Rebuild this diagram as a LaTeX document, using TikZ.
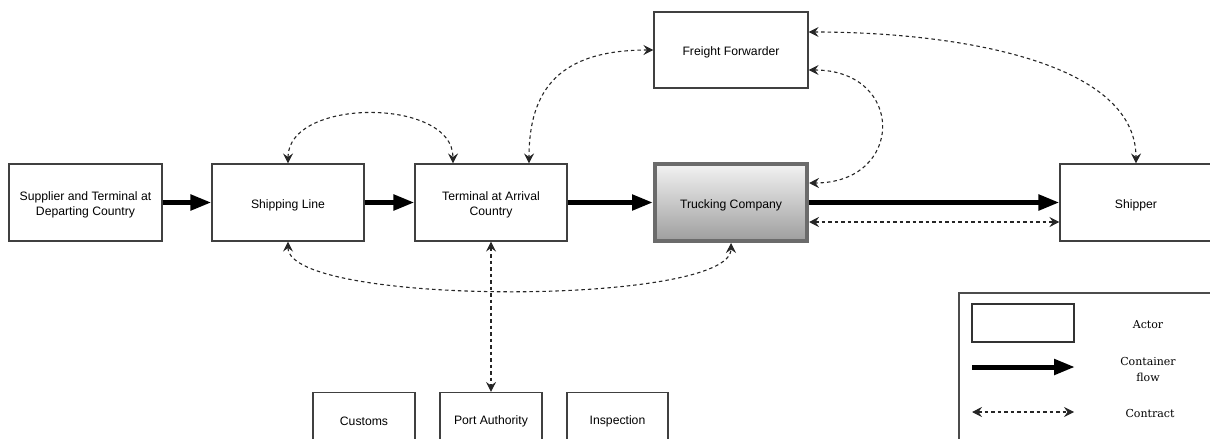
\documentclass[tikz,border=0pt]{standalone}
\usepackage{fontspec}
\setsansfont{Liberation Sans}
\newfontfamily\legendfont{DejaVu Serif}
\usetikzlibrary{arrows.meta}
\begin{document}
\begin{tikzpicture}[x=1pt,y=-1pt,
  actor/.style={draw=black!75, line width=1.1pt, fill=white, inner sep=0pt},
  hub/.style={actor, draw=black!58, line width=4pt, top color=black!5, bottom color=black!38},
  boxtext/.style={inner sep=0pt, align=center, yshift=-2.5pt,
    font=\sffamily\fontsize{12.2}{15}\selectfont},
  legtext/.style={font=\legendfont\fontsize{11}{16}\selectfont, align=center, inner sep=0pt},
  flow/.style={line width=5pt, -{Triangle[length=21pt,width=15pt]}},
  contract/.style={draw=black!85, line width=1.1pt, dash pattern=on 3.5pt off 3pt,
    {Stealth[length=10pt,width=10pt,inset=3.5pt]}-{Stealth[length=10pt,width=10pt,inset=3.5pt]}}]
\useasboundingbox (0,0) rectangle (1210,439);

% main actors
\node[actor, minimum width=153pt, minimum height=77pt] (sup) at (85.5,202.5) {};
\node[actor, minimum width=152pt, minimum height=77pt] (ship) at (288,202.5) {};
\node[actor, minimum width=152pt, minimum height=77pt] (term) at (491,202.5) {};
\node[hub, minimum width=152pt, minimum height=77pt] (truck) at (731,202.5) {};
\node[actor, minimum width=154pt, minimum height=76pt] (ff) at (731,50) {};
\node[actor, minimum width=152pt, minimum height=77pt] (shipper) at (1136,202.5) {};
\node[boxtext] (supt) at (sup.center) {Supplier and Terminal at\\Departing Country};
\node[boxtext] (shipt) at (ship.center) {Shipping Line};
\node[boxtext] (termt) at (term.center) {Terminal at Arrival\\Country};
\node[boxtext] (truckt) at (truck.center) {Trucking Company};
\node[boxtext] (fft) at (ff.center) {Freight Forwarder};
\node[boxtext] (shippert) at (shipper.center) {Shipper};

% authorities
\node[actor, minimum width=102pt, minimum height=56pt] (cust) at (364,420.5) {};
\node[actor, minimum width=102pt, minimum height=56pt] (port) at (491,420.5) {};
\node[actor, minimum width=101pt, minimum height=56pt] (insp) at (617.5,420.5) {};
\node[boxtext, yshift=2pt] (custt) at (cust.center) {Customs};
\node[boxtext, yshift=2pt] (portt) at (port.center) {Port Authority};
\node[boxtext, yshift=2pt] (inspt) at (insp.center) {Inspection};

% container flow
\draw[flow] (sup.east) -- (ship.west);
\draw[flow] (ship.east) -- (term.west);
\draw[flow] (term.east) -- (truck.west);
\draw[flow] (truck.east) -- (shipper.west);

% contracts
\draw[contract] (ship.north) .. controls +(0,-66) and +(0,-66) .. ([xshift=-38pt]term.north);
\draw[contract] (ff.west) .. controls +(-94,0) and +(0,-74) .. ([xshift=38pt]term.north);
\draw[contract] ([yshift=18pt]ff.east) .. controls +(142,0) and +(0,-104) .. (shipper.north);
\draw[contract] ([yshift=-20pt]ff.east) .. controls +(97,0) and +(96,0) .. ([yshift=19.5pt]truck.east);
\draw[contract] ([yshift=-19.5pt]truck.east) -- ([yshift=-19.5pt]shipper.west);
\draw[contract] (ship.south) .. controls +(0,65) and +(0,63) .. (truck.south);
\draw[contract] (term.south) -- (port.north);

% legend
\node[draw=black!70, line width=1.1pt, minimum width=262pt, minimum height=160pt, inner sep=0pt] (legend) at (1090,373) {};
\node[draw=black!80, line width=1.1pt, minimum width=102pt, minimum height=38pt, inner sep=0pt] (legactor) at (1023,323) {};
\node[legtext] (legactort) at (1148,325) {Actor};
\coordinate (lfa) at (972,367);
\coordinate (lfb) at (1075,367);
\draw[flow] (lfa) -- (lfb);
\node[legtext] (legflowt) at (1148,369) {Container\\flow};
\coordinate (lca) at (972,412);
\coordinate (lcb) at (1074,412);
\draw[contract] (lca) -- (lcb);
\node[legtext] (legcontt) at (1150,413) {Contract};
\end{tikzpicture}
\end{document}
